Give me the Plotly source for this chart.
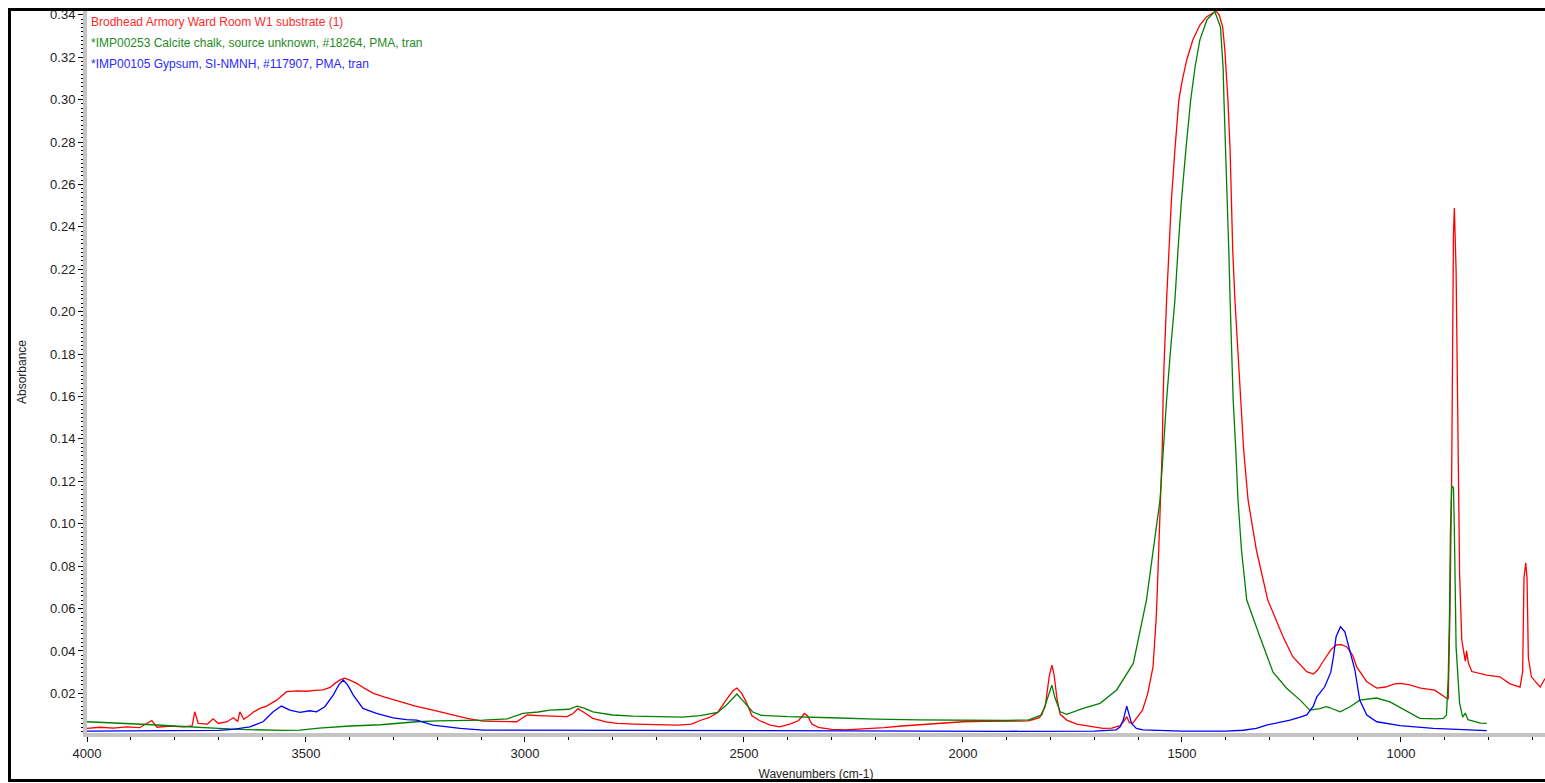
import plotly.graph_objects as go

# ---------------- data ----------------
red_wn = [4000, 3970, 3940, 3910, 3880, 3852, 3840, 3810, 3780, 3760, 3754, 3746, 3725, 3712, 3700,
          3680, 3666, 3656, 3651, 3642, 3628, 3620, 3605, 3590, 3567, 3544, 3520, 3498, 3480, 3461,
          3445, 3434, 3420, 3411, 3400, 3384, 3365, 3346, 3320, 3285, 3250, 3210, 3170, 3132, 3096,
          3050, 3019, 3005, 2995, 2970, 2943, 2904, 2890, 2879, 2865, 2845, 2815, 2790, 2750, 2700,
          2650, 2620, 2600, 2580, 2560, 2540, 2525, 2516, 2505, 2495, 2482, 2465, 2440, 2419, 2395,
          2375, 2362, 2355, 2345, 2330, 2300, 2268, 2220, 2180, 2140, 2100, 2060, 2000, 1950, 1900,
          1850, 1825, 1812, 1803, 1797, 1792, 1785, 1778, 1763, 1740, 1720, 1700, 1680, 1660, 1641,
          1632, 1626, 1620, 1612, 1604, 1590, 1578, 1566, 1559, 1557, 1549, 1545, 1543, 1541, 1535,
          1529, 1524, 1516, 1507, 1499, 1489, 1475, 1459, 1444, 1430, 1422, 1415, 1407, 1402, 1395,
          1390, 1387, 1384, 1379, 1372, 1366, 1359, 1349, 1330, 1304, 1269, 1247, 1215, 1200, 1190,
          1178, 1160, 1148, 1136, 1124, 1110, 1101, 1078, 1055, 1035, 1015, 1000, 980, 955, 923,
          903, 892, 888, 884, 880, 878, 874, 870, 866, 861, 853, 850, 846, 838, 804,
          774, 751, 728, 722, 719, 715, 712, 709, 702, 682, 671]
red_abs = [0.0035, 0.0040, 0.0036, 0.0042, 0.0038, 0.0072, 0.0040, 0.0045, 0.0042, 0.0046, 0.0113, 0.0058, 0.0055, 0.0080, 0.0058,
           0.0066, 0.0085, 0.0068, 0.0113, 0.0078, 0.0098, 0.0112, 0.0129, 0.0140, 0.0168, 0.0208, 0.0212, 0.0210, 0.0214, 0.0216,
           0.0228, 0.0247, 0.0266, 0.0272, 0.0262, 0.0247, 0.0222, 0.0200, 0.0182, 0.0160, 0.0140, 0.0121, 0.0100, 0.0082, 0.0069,
           0.0066, 0.0066, 0.0085, 0.0098, 0.0095, 0.0093, 0.0090, 0.0105, 0.0128, 0.0110, 0.0082, 0.0065, 0.0058, 0.0055, 0.0052,
           0.0050, 0.0055, 0.0072, 0.0085, 0.0110, 0.0170, 0.0212, 0.0225, 0.0200, 0.0160, 0.0095, 0.0072, 0.0050, 0.0042, 0.0055,
           0.0072, 0.0105, 0.0095, 0.0055, 0.0040, 0.0030, 0.0028, 0.0032, 0.0038, 0.0046, 0.0052, 0.0060, 0.0066, 0.0068, 0.0068,
           0.0070, 0.0085, 0.0140, 0.0280, 0.0333, 0.0290, 0.0170, 0.0101, 0.0074, 0.0055, 0.0048, 0.0040, 0.0035, 0.0036, 0.0048,
           0.0070, 0.0090, 0.0062, 0.0060, 0.0082, 0.0121, 0.0200, 0.0325, 0.0546, 0.0640, 0.1112, 0.1348, 0.1584, 0.1739, 0.2055,
           0.2290, 0.2527, 0.2763, 0.2999, 0.3093, 0.3187, 0.3282, 0.3352, 0.3390, 0.3410, 0.3418, 0.3400, 0.3343, 0.3234, 0.2999,
           0.2763, 0.2527, 0.2290, 0.2055, 0.1819, 0.1584, 0.1348, 0.1112, 0.0876, 0.0640, 0.0467, 0.0373, 0.0302, 0.0291, 0.0310,
           0.0349, 0.0405, 0.0428, 0.0430, 0.0420, 0.0380, 0.0325, 0.0255, 0.0225, 0.0230, 0.0245, 0.0247, 0.0240, 0.0225, 0.0215,
           0.0185, 0.0172, 0.0580, 0.1250, 0.2366, 0.2489, 0.2194, 0.1383, 0.0763, 0.0451, 0.0352, 0.0400, 0.0343, 0.0303, 0.0286,
           0.0278, 0.0245, 0.0229, 0.0303, 0.0744, 0.0815, 0.0744, 0.0368, 0.0278, 0.0229, 0.0270]

green_wn = [4000, 3950, 3900, 3850, 3800, 3750, 3700, 3650, 3600, 3550, 3514, 3470, 3400, 3330, 3247,
            3200, 3096, 3040, 3005, 2970, 2943, 2900, 2881, 2865, 2845, 2800, 2753, 2700, 2640, 2600,
            2560, 2540, 2516, 2500, 2480, 2460, 2400, 2300, 2200, 2100, 2000, 1900, 1850, 1820, 1808,
            1797, 1790, 1778, 1763, 1726, 1687, 1649, 1611, 1581, 1550, 1543, 1535, 1526, 1516, 1509,
            1501, 1491, 1480, 1470, 1459, 1443, 1425, 1412, 1406, 1404, 1400, 1397, 1393, 1390, 1383,
            1377, 1372, 1364, 1352, 1322, 1292, 1261, 1230, 1208, 1185, 1170, 1162, 1139, 1116, 1094,
            1056, 1025, 987, 957, 920, 903, 896, 892, 889, 887, 884, 880, 878, 874, 869,
            866, 859, 853, 847, 833, 818, 804]
green_abs = [0.0066, 0.0062, 0.0058, 0.0052, 0.0046, 0.0042, 0.0035, 0.0030, 0.0027, 0.0025, 0.0027, 0.0036, 0.0046, 0.0052, 0.0066,
             0.0070, 0.0074, 0.0080, 0.0106, 0.0112, 0.0121, 0.0125, 0.0140, 0.0130, 0.0113, 0.0098, 0.0093, 0.0090, 0.0088, 0.0095,
             0.0110, 0.0145, 0.0197, 0.0160, 0.0112, 0.0096, 0.0090, 0.0085, 0.0078, 0.0075, 0.0072, 0.0072, 0.0075, 0.0098, 0.0170,
             0.0239, 0.0180, 0.0113, 0.0101, 0.0129, 0.0153, 0.0216, 0.0341, 0.0640, 0.1112, 0.1348, 0.1584, 0.1819, 0.2055, 0.2290,
             0.2527, 0.2763, 0.2999, 0.3154, 0.3282, 0.3376, 0.3415, 0.3343, 0.3154, 0.2999, 0.2763, 0.2527, 0.2290, 0.2055, 0.1584,
             0.1348, 0.1112, 0.0876, 0.0640, 0.0467, 0.0300, 0.0224, 0.0168, 0.0121, 0.0128, 0.0137, 0.0132, 0.0113, 0.0137, 0.0168,
             0.0178, 0.0160, 0.0115, 0.0082, 0.0080, 0.0082, 0.0098, 0.0270, 0.0580, 0.0957, 0.1178, 0.1170, 0.0975, 0.0418, 0.0253,
             0.0154, 0.0088, 0.0107, 0.0076, 0.0069, 0.0060, 0.0058]

blue_wn = [4000, 3900, 3800, 3700, 3667, 3628, 3598, 3575, 3556, 3537, 3514, 3491, 3476, 3457, 3438,
           3425, 3415, 3405, 3392, 3370, 3339, 3301, 3270, 3247, 3210, 3148, 3096, 2900, 2836, 2700,
           2500, 2300, 2100, 1900, 1700, 1650, 1641, 1634, 1626, 1620, 1615, 1604, 1589, 1500, 1400,
           1360, 1330, 1307, 1280, 1253, 1230, 1215, 1200, 1192, 1174, 1160, 1154, 1148, 1138, 1128,
           1116, 1105, 1094, 1078, 1055, 1002, 926, 849, 804]
blue_abs = [0.0022, 0.0022, 0.0022, 0.0025, 0.0030, 0.0042, 0.0066, 0.0113, 0.0140, 0.0121, 0.0110, 0.0118, 0.0113, 0.0137, 0.0192,
            0.0240, 0.0263, 0.0240, 0.0192, 0.0129, 0.0106, 0.0084, 0.0076, 0.0074, 0.0050, 0.0035, 0.0027, 0.0026, 0.0024, 0.0022,
            0.0021, 0.0020, 0.0020, 0.0021, 0.0022, 0.0028, 0.0042, 0.0074, 0.0140, 0.0090, 0.0058, 0.0035, 0.0028, 0.0022, 0.0022,
            0.0026, 0.0035, 0.0050, 0.0062, 0.0074, 0.0088, 0.0098, 0.0140, 0.0184, 0.0231, 0.0300, 0.0373, 0.0467, 0.0514, 0.0490,
            0.0396, 0.0310, 0.0168, 0.0098, 0.0066, 0.0048, 0.0035, 0.0027, 0.0024]

series_names = ["Brodhead Armory Ward Room W1 substrate (1)",
                "*IMP00253 Calcite chalk, source unknown, #18264, PMA, tran",
                "*IMP00105 Gypsum, SI-NMNH, #117907, PMA, tran"]
line_colors = ["#ff0000", "#008000", "#0000ff"]
text_colors = ["#ff2a2a", "#1e8c1e", "#2a2aff"]

y_ticks = [0.02, 0.04, 0.06, 0.08, 0.10, 0.12, 0.14, 0.16, 0.18, 0.20, 0.22, 0.24, 0.26, 0.28, 0.30, 0.32, 0.34]
x_ticks = [4000, 3500, 3000, 2500, 2000, 1500, 1000]

# ---------------- figure ----------------
FONT = "Liberation Sans, Arial, sans-serif"
fig = go.Figure()
for wn, ab, name, col in zip([red_wn, green_wn, blue_wn], [red_abs, green_abs, blue_abs],
                             series_names, line_colors):
    fig.add_trace(go.Scatter(x=wn, y=ab, mode="lines", name=name,
                             line=dict(color=col, width=1.3), showlegend=False))

W, H = 1545, 783
ml, mr, mt, mb = 87, 0, 11, 50
pw, ph = W - ml - mr, H - mt - mb

def px_to_paper_x(px):
    return (px - ml) / pw

def px_to_paper_y(py):
    return (H - mb - py) / ph

annotations = []
for i, (name, tc) in enumerate(zip(series_names, text_colors)):
    annotations.append(dict(text=name, x=px_to_paper_x(89), y=px_to_paper_y(22 + 21 * i),
                            xref="paper", yref="paper", xanchor="left", yanchor="middle",
                            showarrow=False, font=dict(family=FONT, size=12, color=tc)))

fig.update_layout(
    width=W, height=H,
    margin=dict(l=ml, r=mr, t=mt, b=mb, pad=0),
    paper_bgcolor="white", plot_bgcolor="white",
    font=dict(family=FONT, size=13, color="#222222"),
    annotations=annotations,
    shapes=[dict(type="rect", xref="paper", yref="paper",
                 x0=px_to_paper_x(9.5), x1=px_to_paper_x(1560),
                 y0=px_to_paper_y(780.5), y1=px_to_paper_y(9.5),
                 line=dict(color="black", width=3), fillcolor="rgba(0,0,0,0)", layer="above")],
)

fig.update_xaxes(
    range=[4000, 671], autorange=False,
    tickmode="array", tickvals=x_ticks, ticktext=[str(v) for v in x_ticks],
    ticks="outside", ticklen=5, tickwidth=1, tickcolor="black",
    showline=True, linecolor="#c4c4c4", linewidth=4,
    showgrid=False, zeroline=False,
    tickfont=dict(family=FONT, size=13, color="#222222"),
    minor=dict(dtick=100, tick0=0, ticks="outside", ticklen=3, tickcolor="black", showgrid=False),
    title=dict(text="Wavenumbers (cm-1)", font=dict(family=FONT, size=12, color="#222222"), standoff=11),
)
fig.update_yaxes(
    range=[0.0013, 0.3418], autorange=False,
    tickmode="array", tickvals=y_ticks, ticktext=[f"{v:.2f}" for v in y_ticks],
    ticks="outside", ticklen=5, tickwidth=1, tickcolor="black",
    showline=True, linecolor="#c4c4c4", linewidth=4,
    showgrid=False, zeroline=False,
    tickfont=dict(family=FONT, size=13, color="#222222"),
    minor=dict(dtick=0.002, tick0=0, ticks="outside", ticklen=2, tickcolor="black", showgrid=False),
    title=dict(text="Absorbance", font=dict(family=FONT, size=12, color="#222222"), standoff=22),
)

fig.write_html("out.html", config={"displayModeBar": False},
               post_script="document.body.style.margin='0';document.body.style.overflow='hidden';")
